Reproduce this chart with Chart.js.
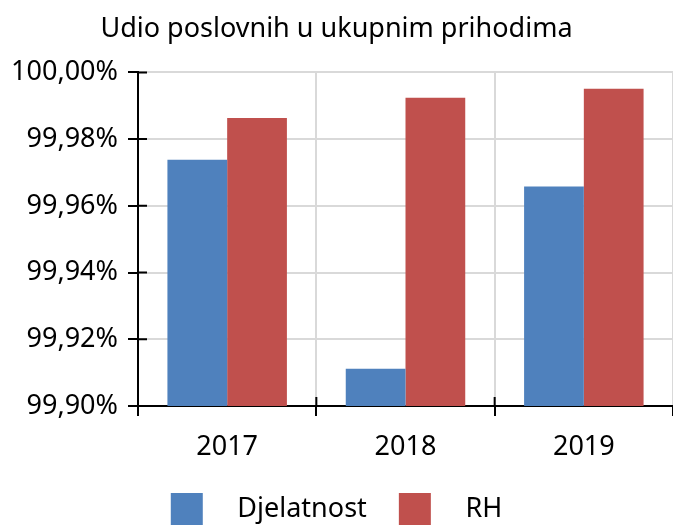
<!DOCTYPE html>
<html>
<head>
<meta charset="utf-8">
<script src="https://cdn.jsdelivr.net/npm/chart.js@4"></script>
<style>
  html, body { margin: 0; padding: 0; background: #fff; }
  #wrap { width: 673px; height: 528px; }
</style>
</head>
<body>
<div id="wrap"><canvas id="chart"></canvas></div>
<script>
const years = ['2017', '2018', '2019'];
const djelatnost = [99.9738, 99.9112, 99.9658];
const rh = [99.9863, 99.9924, 99.9951];
const yTicks = [99.90, 99.92, 99.94, 99.96, 99.98, 100.00];

const FONT = "'Noto Sans', 'Open Sans', sans-serif";

// tick marks that cross the axis lines (the outer half comes from Chart.js)
const innerTicks = {
    id: 'innerTicks',
    afterDraw(chart) {
        const { ctx, chartArea, scales } = chart;
        ctx.save();
        ctx.strokeStyle = '#000';
        ctx.lineWidth = 2;
        ctx.beginPath();
        scales.y.ticks.forEach((t, i) => {
            const py = scales.y.getPixelForTick(i);
            ctx.moveTo(chartArea.left, py);
            ctx.lineTo(chartArea.left + 9, py);
        });
        for (let i = 1; i < scales.x.ticks.length; i++) {
            const px = (scales.x.getPixelForTick(i - 1) + scales.x.getPixelForTick(i)) / 2;
            ctx.moveTo(px, chartArea.bottom);
            ctx.lineTo(px, chartArea.bottom - 9);
        }
        ctx.stroke();
        ctx.restore();
    }
};

const ctx = document.getElementById('chart').getContext('2d');

new Chart(ctx, {
    type: 'bar',
    data: {
        labels: years,
        datasets: [{
            label: 'Djelatnost',
            data: djelatnost,
            backgroundColor: '#4F81BD',
            borderWidth: 0,
            barPercentage: 1.0,
            categoryPercentage: 0.67
        }, {
            label: 'RH',
            data: rh,
            backgroundColor: '#C0504D',
            borderWidth: 0,
            barPercentage: 1.0,
            categoryPercentage: 0.67
        }]
    },
    options: {
        responsive: true,
        maintainAspectRatio: false,
        animation: false,
        layout: { padding: { left: 0, right: 0, top: 0, bottom: -7 } },
        plugins: {
            title: {
                display: true,
                text: 'Udio poslovnih u ukupnim prihodima',
                color: '#000',
                font: { family: FONT, size: 27, weight: 'normal' },
                padding: { top: 13, bottom: 27 }
            },
            legend: {
                position: 'bottom',
                labels: {
                    color: '#000',
                    font: { family: FONT, size: 27 },
                    boxWidth: 32,
                    boxHeight: 32,
                    padding: 18,
                    generateLabels(chart) {
                        const items = Chart.defaults.plugins.legend.labels.generateLabels(chart);
                        items.forEach((it, i) => {
                            it.text = '   ' + it.text + (i === 0 ? '  ' : '');
                            it.lineWidth = 0;
                        });
                        return items;
                    }
                }
            },
            tooltip: { enabled: false }
        },
        scales: {
            y: {
                min: yTicks[0],
                max: yTicks[yTicks.length - 1],
                afterFit(scale) { scale.width = 138; },
                afterBuildTicks(scale) { scale.ticks = yTicks.map(v => ({ value: v })); },
                ticks: {
                    color: '#000',
                    padding: 10,
                    font: { family: FONT, size: 27 },
                    callback: v => v.toFixed(2).replace('.', ',') + '%'
                },
                grid: {
                    color: '#d9d9d9',
                    lineWidth: 2,
                    tickColor: '#000',
                    tickLength: 10,
                    tickWidth: 2
                },
                border: { color: '#000', width: 2 }
            },
            x: {
                afterFit(scale) { scale.height = 69; },
                ticks: {
                    color: '#000',
                    padding: 15,
                    font: { family: FONT, size: 27 }
                },
                grid: {
                    offset: true,
                    color: '#d9d9d9',
                    lineWidth: 2,
                    tickColor: '#000',
                    tickLength: 10,
                    tickWidth: 2
                },
                border: { color: '#000', width: 2 }
            }
        }
    },
    plugins: [innerTicks]
});
</script>
</body>
</html>
